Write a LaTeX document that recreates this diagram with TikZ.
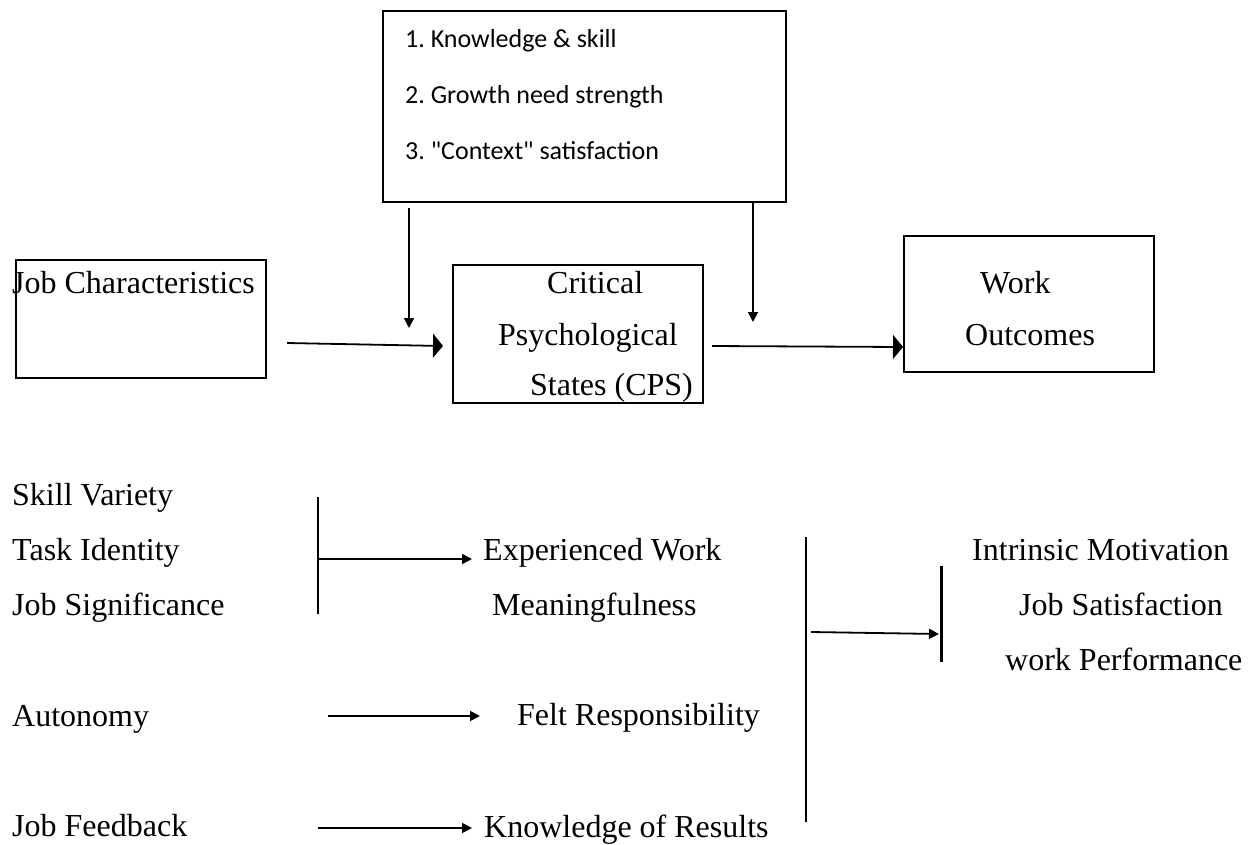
\documentclass[tikz,border=0pt]{standalone}
\usepackage{fontspec}
\setmainfont{Liberation Serif}
\newfontfamily\listfont{Carlito}
\usetikzlibrary{arrows.meta}
\begin{document}
\frenchspacing
\begin{tikzpicture}[x=1pt,y=-1pt,
  lbl/.style={anchor=base west, inner sep=0pt, font=\fontsize{32}{38}\selectfont},
  lst/.style={anchor=base west, inner sep=0pt, font=\listfont\fontsize{26}{31}\selectfont},
  frame/.style={draw, line width=2pt, inner sep=0pt, anchor=north west},
  bigarrow/.style={line width=1.8pt, -{Triangle[length=10pt,width=24pt]}},
  arr/.style={line width=1.8pt, -{Triangle[length=10pt,width=10pt]}},
  bar/.style={line width=2pt}]

% canvas
\fill[white] (0,0) rectangle (1251,844);
\useasboundingbox (0,0) rectangle (1251,844);

% boxes
\node[frame, minimum width=403pt, minimum height=191pt] (mods) at (382,10) {};
\node[frame, minimum width=250pt, minimum height=118pt] (jc) at (15,259) {};
\node[frame, minimum width=250pt, minimum height=138pt] (cps) at (452,264) {};
\node[frame, minimum width=250pt, minimum height=136pt] (wo) at (903,235) {};

% moderator list
\node[lst] (m1) at (405,47) {1. Knowledge \& skill};
\node[lst] (m2) at (405,103) {2. Growth need strength};
\node[lst] (m3) at (405,159) {3. "Context" satisfaction};

% box labels
\node[lbl] (jct) at (12,293) {Job Characteristics};
\node[lbl] (cps1) at (547,293) {Critical};
\node[lbl] (cps2) at (498,345) {Psychological};
\node[lbl] (cps3) at (530,395) {States (CPS)};
\node[lbl] (wo1) at (980,293) {Work};
\node[lbl] (wo2) at (965,345) {Outcomes};

% main flow
\coordinate (jcout) at (287,343);
\coordinate (cpsin) at (443,346);
\coordinate (cpsout) at (712,346);
\coordinate (woin) at (903,347);
\draw[bigarrow] (jcout) -- (cpsin);
\draw[bigarrow] (cpsout) -- (woin);

% moderator arrows
\coordinate (d1s) at (409,208);
\coordinate (d1e) at (409,328);
\coordinate (d2s) at (753,202);
\coordinate (d2e) at (753,322);
\draw[arr] (d1s) -- (d1e);
\draw[arr] (d2s) -- (d2e);

% core job dimensions
\node[lbl] (sv) at (12,505) {Skill Variety};
\node[lbl] (ti) at (12,560) {Task Identity};
\node[lbl] (js) at (12,615) {Job Significance};
\node[lbl] (au) at (12,726) {Autonomy};
\node[lbl] (jf) at (12,836) {Job Feedback};

% psychological states
\node[lbl] (ew) at (483,560) {Experienced Work};
\node[lbl] (mf) at (492,615) {Meaningfulness};
\node[lbl] (fr) at (517,725) {Felt Responsibility};
\node[lbl] (kr) at (484,837) {Knowledge of Results};

% outcomes
\node[lbl] (im) at (972,560) {Intrinsic Motivation};
\node[lbl] (sat) at (1019,615) {Job Satisfaction};
\node[lbl] (wp) at (1005,670) {work Performance};

% brackets and arrows
\coordinate (b1t) at (318,497);
\coordinate (b1b) at (318,614);
\coordinate (b1m) at (318,559);
\coordinate (ewin) at (472,559);
\draw[bar] (b1t) -- (b1b);
\draw[arr] (b1m) -- (ewin);

\coordinate (aus) at (328,716);
\coordinate (frin) at (480,716);
\draw[arr] (aus) -- (frin);

\coordinate (jfs) at (318,828);
\coordinate (krin) at (472,828);
\draw[arr] (jfs) -- (krin);

\coordinate (b2t) at (806,537);
\coordinate (b2b) at (806,822);
\draw[line width=1.6pt] (b2t) -- (b2b);
\coordinate (b2m) at (811,632);
\coordinate (b3m) at (939,634);
\draw[arr] (b2m) -- (b3m);
\coordinate (b3t) at (941,566);
\coordinate (b3b) at (941,662);
\draw[line width=3pt] (b3t) -- (b3b);
\end{tikzpicture}
\end{document}
